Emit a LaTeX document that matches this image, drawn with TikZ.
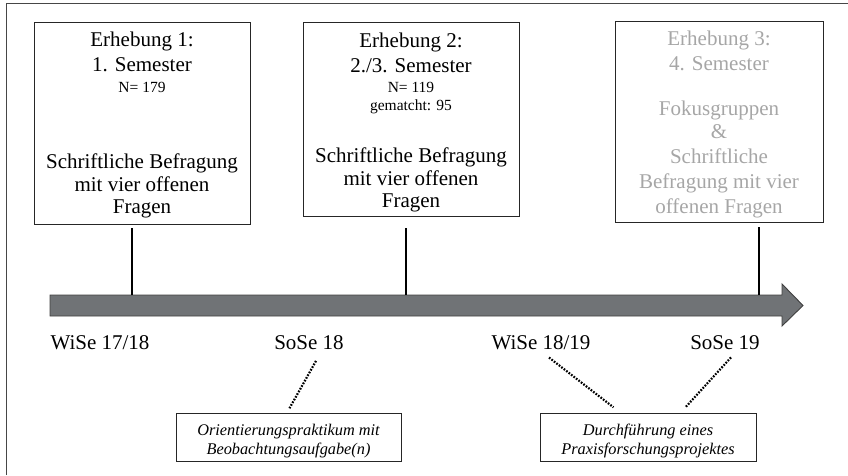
\documentclass[tikz,border=0pt]{standalone}
\usepackage{fontspec}
\setmainfont{Liberation Serif}
\usetikzlibrary{calc}
\definecolor{bargray}{RGB}{112,115,118}
\definecolor{baredge}{RGB}{64,64,64}
\definecolor{faded}{RGB}{166,166,166}
\definecolor{framegray}{RGB}{70,70,70}

\begin{document}
\begin{tikzpicture}[x=1pt,y=-1pt,
  panel/.style={draw=black!85, line width=0.9pt, anchor=north west, inner sep=0pt},
  bigline/.style={anchor=base, inner sep=0pt, font=\fontsize{21}{23}\selectfont},
  numline/.style={anchor=base, inner sep=0pt, font=\fontsize{15.5}{17}\selectfont},
  noteline/.style={anchor=base, inner sep=0pt, font=\fontsize{16.3}{18}\selectfont\itshape},
  tickline/.style={line width=2.8pt},
  link/.style={line width=2.2pt, dash pattern=on 1.7pt off 1.4pt}
]
\useasboundingbox (0,0) rectangle (848,475);

% outer frame (left and top edges)
\draw[framegray, line width=1.6pt] (6.5,475) -- (6.5,3.5) -- (848,3.5);

% survey panels
\node[panel, minimum width=216pt, minimum height=202pt] (b1) at (34,22) {};
\node[panel, minimum width=216pt, minimum height=194pt] (b2) at (303,22) {};
\node[panel, minimum width=208pt, minimum height=201pt] (b3) at (615,21) {};

% panel 1 text
\node[bigline] (b1a) at (142,46.7) {Erhebung 1:};
\node[bigline] (b1b) at (142,71.7) {1. Semester};
\node[numline] (b1c) at (142,92) {N= 179};
\node[bigline] (b1d) at (142,168) {Schriftliche Befragung};
\node[bigline] (b1e) at (142,191) {mit vier offenen};
\node[bigline] (b1f) at (142,213) {Fragen};

% panel 2 text
\node[bigline] (b2a) at (411,47.5) {Erhebung 2:};
\node[bigline] (b2b) at (411,72.5) {2./3. Semester};
\node[numline] (b2c) at (411,92) {N= 119};
\node[numline] (b2d) at (411,110.5) {gematcht: 95};
\node[bigline] (b2e) at (411,162.5) {Schriftliche Befragung};
\node[bigline] (b2f) at (411,185.5) {mit vier offenen};
\node[bigline] (b2g) at (411,207.5) {Fragen};

% panel 3 text (planned survey, greyed out)
\begin{scope}[every node/.append style={text=faded}]
\node[bigline] (b3a) at (719,45) {Erhebung 3:};
\node[bigline] (b3b) at (719,70) {4. Semester};
\node[bigline] (b3c) at (719,115) {Fokusgruppen};
\node[bigline] (b3d) at (719,138) {\&};
\node[bigline] (b3e) at (719,163) {Schriftliche};
\node[bigline] (b3f) at (719,188) {Befragung mit vier};
\node[bigline] (b3g) at (719,213) {offenen Fragen};
\end{scope}

% time line arrow
\draw[fill=bargray, draw=baredge, line width=0.9pt]
  (50,295) -- (782,295) -- (782,284) -- (803,305.5) -- (782,326)
  -- (782,316) -- (50,316) -- cycle;

% ticks from the panels onto the time line
\coordinate (t1a) at (132,228);  \coordinate (t1) at (132,295);
\coordinate (t2a) at (406,228);  \coordinate (t2) at (406,295);
\coordinate (t3a) at (759,227);  \coordinate (t3) at (759,295);
\draw[tickline] (t1a) -- (t1);
\draw[tickline] (t2a) -- (t2);
\draw[tickline] (t3a) -- (t3);

% semester labels
\node[bigline] (w1718) at (100,349) {WiSe 17/18};
\node[bigline] (s18)   at (309,349.5) {SoSe 18};
\node[bigline] (w1819) at (541,349) {WiSe 18/19};
\node[bigline] (s19)   at (725,349) {SoSe 19};

% practical phase boxes
\node[panel, minimum width=225pt, minimum height=48pt] (nA) at (176,413.3) {};
\node[noteline] (nA1) at (288.5,435) {Orientierungspraktikum mit};
\node[noteline] (nA2) at (288.5,454) {Beobachtungsaufgabe(n)};
\node[panel, minimum width=216pt, minimum height=48pt] (nB) at (540,413.3) {};
\node[noteline] (nB1) at (648,435) {Durchführung eines};
\node[noteline] (nB2) at (648,454) {Praxisforschungsprojektes};

% dotted links from semesters to phases
\draw[link] ($(s18.south)+(7,11)$) -- ($(nA.north)+(0.5,-5)$);
\draw[link] ($(w1819.south)+(8,8)$) -- ($(nB.north)+(-35,-6)$);
\draw[link] ($(s19.south)+(6,8)$) -- ($(nB.north)+(37,-6)$);
\end{tikzpicture}
\end{document}
